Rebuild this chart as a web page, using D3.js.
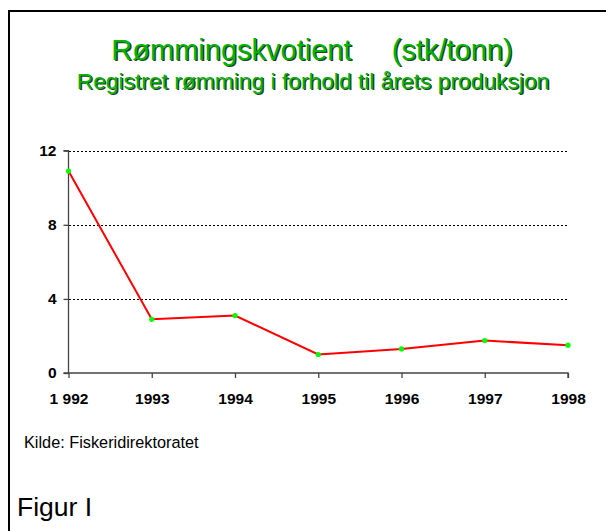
<!DOCTYPE html>
<html>
<head>
<meta charset="utf-8">
<script src="https://cdn.jsdelivr.net/npm/d3@7"></script>
<style>
  body { margin: 0; background: #fff; }
  svg { display: block; font-family: "Liberation Sans", Arial, sans-serif; }
</style>
</head>
<body>
<svg width="606" height="531"></svg>
<script>
// chart data
let years = ["1992", "1993", "1994", "1995", "1996", "1997", "1998"];
let yearLabels = ["1 992", "1993", "1994", "1995", "1996", "1997", "1998"];
let quotient = [10.9, 2.9, 3.1, 1.0, 1.3, 1.75, 1.5];
let yTicks = [0, 4, 8, 12];

let title = "Rømmingskvotient     (stk/tonn)";
let subtitle = "Registret rømming i forhold til årets produksjon";
let source = "Kilde: Fiskeridirektoratet";
let figLabel = "Figur I";

let svg = d3.select("svg");

// frame (runs off the right and bottom edge)
svg.append("line").attr("x1", 8).attr("x2", 606).attr("y1", 11).attr("y2", 11)
    .attr("stroke", "#000").attr("stroke-width", 2);
svg.append("line").attr("x1", 9).attr("x2", 9).attr("y1", 10).attr("y2", 531)
    .attr("stroke", "#000").attr("stroke-width", 2);

// titles with shadow
function shadowText(txt, x, y, size) {
    svg.append("text").attr("x", x + 1.3).attr("y", y + 1.3)
        .attr("text-anchor", "middle").attr("font-size", size)
        .style("white-space", "pre").attr("fill", "#2a3a2a").text(txt);
    svg.append("text").attr("x", x).attr("y", y)
        .attr("text-anchor", "middle").attr("font-size", size)
        .style("white-space", "pre").attr("fill", "#00b400").text(txt);
}
shadowText(title, 312, 60, 29);
shadowText(subtitle, 313, 89, 22.8);

let x = d3.scalePoint().domain(years).range([68.5, 568]);
let y = d3.scaleLinear().domain([0, 12]).range([373, 150.7]);

// dotted gridlines
svg.append("g")
    .selectAll("line")
    .data(yTicks.filter(d => d > 0))
    .join("line")
    .attr("x1", 69).attr("x2", 568)
    .attr("y1", d => Math.round(y(d)) + 0.5).attr("y2", d => Math.round(y(d)) + 0.5)
    .attr("stroke", "#000").attr("stroke-dasharray", "2,2");

// axes
let yAxis = svg.append("g")
    .attr("transform", "translate(68.5,0)")
    .call(d3.axisLeft(y).tickValues(yTicks).tickSize(5).tickPadding(7).tickFormat(d3.format("d")));

let xAxis = svg.append("g")
    .attr("transform", "translate(0,373)")
    .call(d3.axisBottom(x).tickSize(5).tickPadding(15).tickFormat((d, i) => yearLabels[i]));

[yAxis, xAxis].forEach(function (g) {
    g.select(".domain").attr("stroke", "#444").attr("stroke-width", 1.3);
    g.selectAll(".tick line").attr("stroke", "#444").attr("stroke-width", 1.3);
    g.selectAll(".tick text").attr("fill", "#000").attr("font-size", 15.5)
        .attr("font-weight", "bold").attr("font-family", "Liberation Sans, Arial, sans-serif");
});
yAxis.select(".domain").attr("d", "M-5,373H0V150.7H-5");
xAxis.select(".domain").attr("d", "M68.5,0H568V5");

// line
let line = d3.line()
    .x((d, i) => x(years[i]))
    .y(d => y(d));

svg.append("path")
    .datum(quotient)
    .attr("d", line)
    .attr("fill", "none")
    .attr("stroke", "#ff0000")
    .attr("stroke-width", 2);

svg.append("g")
    .selectAll("circle")
    .data(quotient)
    .join("circle")
    .attr("cx", (d, i) => x(years[i]))
    .attr("cy", d => y(d))
    .attr("r", 2.6)
    .attr("fill", "#00ff00");

// footer texts
svg.append("text").attr("x", 24).attr("y", 448).attr("font-size", 16.3)
    .attr("fill", "#000").text(source);
svg.append("text").attr("x", 17).attr("y", 516).attr("font-size", 26.5)
    .attr("fill", "#000").text(figLabel);
</script>
</body>
</html>
